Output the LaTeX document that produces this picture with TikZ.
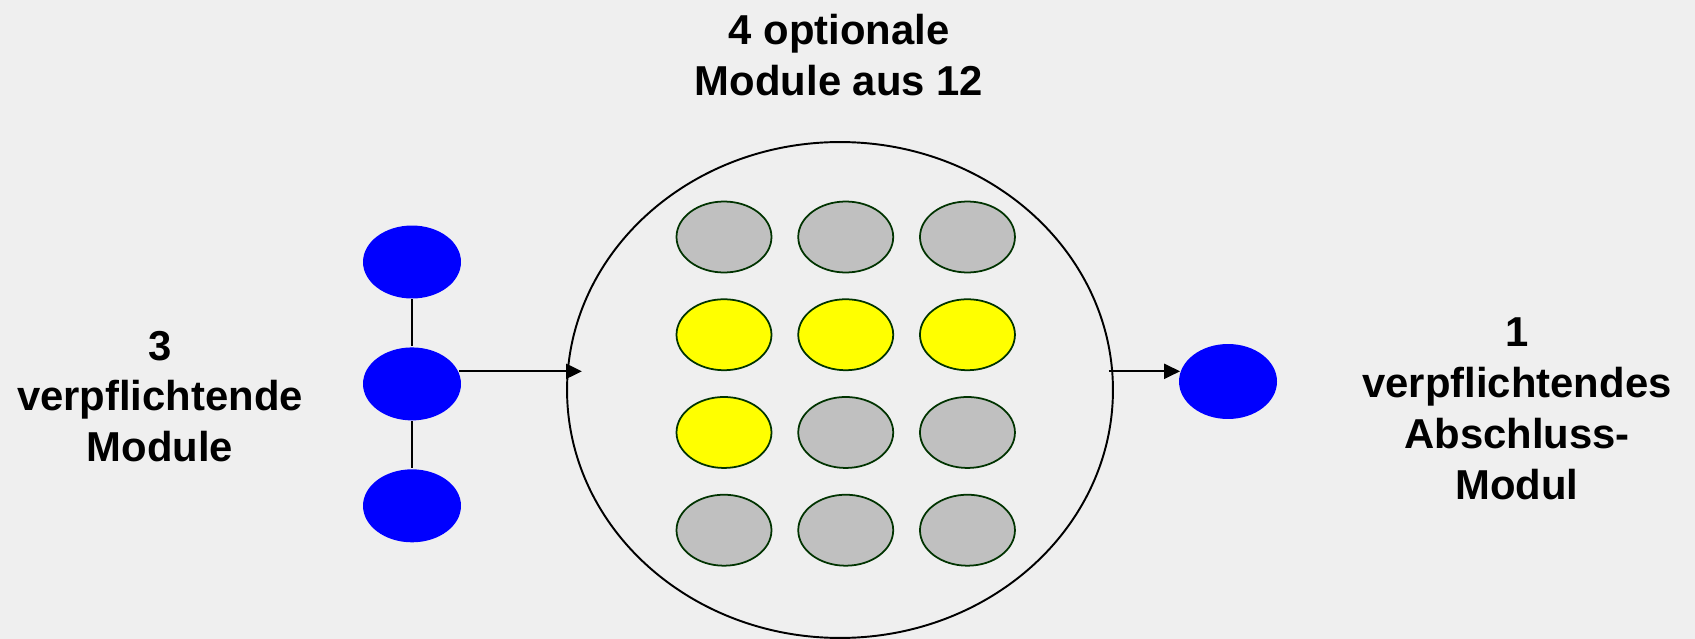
\documentclass[tikz,border=0pt]{standalone}
\usepackage{fontspec}
\setmainfont{Liberation Sans}
\usepackage{xcolor}
\usepackage{tikz}
\usetikzlibrary{positioning, shapes.geometric, arrows.meta}

\definecolor{bgrey}{HTML}{EFEFEF}
\definecolor{mblue}{HTML}{0000FF}
\definecolor{mgrey}{HTML}{C0C0C0}
\definecolor{myellow}{HTML}{FFFF00}
\definecolor{mgreen}{HTML}{003300}

\begin{document}
\begin{tikzpicture}[x=0.02cm, y=-0.02cm, >={Triangle[length=9pt,width=8.5pt]}, line width=1.1pt,
    pflicht/.style={ellipse, fill=mblue, inner sep=0pt, minimum width=1.96cm, minimum height=1.46cm},
    wahl/.style={ellipse, draw=mgreen, fill=mgrey, line width=1pt, inner sep=0pt, minimum width=1.9cm, minimum height=1.42cm},
    gewaehlt/.style={wahl, fill=myellow},
    label/.style={anchor=north, inner sep=0pt, align=center, font=\bfseries\fontsize{23.8}{28.9}\selectfont}]
            \fill[bgrey] (0,0) rectangle (1695,639);
            \useasboundingbox (0,0) rectangle (1695,639);

            % Nodes
            \node[pflicht] (m1) at (412,262) {};
            \node[pflicht, below=0.94cm of m1] (m2) {};
            \node[pflicht, below=0.94cm of m2] (m3) {};

            \node[ellipse, draw, inner sep=0pt, minimum width=10.92cm, minimum height=9.92cm] (pool) at (840,390) {};

            \node[wahl] (g11) at (724,237) {};
            \node[wahl, right=0.5cm of g11] (g12) {};
            \node[wahl, right=0.5cm of g12] (g13) {};
            \node[gewaehlt, below=0.5cm of g11] (g21) {};
            \node[gewaehlt, right=0.5cm of g21] (g22) {};
            \node[gewaehlt, right=0.5cm of g22] (g23) {};
            \node[gewaehlt, below=0.5cm of g21] (g31) {};
            \node[wahl, right=0.5cm of g31] (g32) {};
            \node[wahl, right=0.5cm of g32] (g33) {};
            \node[wahl, below=0.5cm of g31] (g41) {};
            \node[wahl, right=0.5cm of g41] (g42) {};
            \node[wahl, right=0.5cm of g42] (g43) {};

            \node[pflicht, minimum height=1.5cm] (fin) at (1228,381.5) {};

            % Labels
            \node[label] (ltop) at (839,13) {4 optionale\\Module aus 12};
            \node[label] (lleft) at (160,330) {3\\verpflichtende\\Module};
            \node[label] (lright) at (1517,317) {1\\verpflichtendes\\Abschluss-\\Modul};

            % Arrows
            \draw[line width=0.8pt] (m1) -- (m2);
            \draw[line width=0.8pt] (m2) -- (m3);
            \draw[->, shorten >=-9pt] (m2.15) -- (m2.15 -| pool.west);
            \draw[->] ([xshift=-0.1cm]pool.east |- m2.15) -- ([xshift=0.04cm]fin.west |- m2.15);
            \end{tikzpicture}
\end{document}
